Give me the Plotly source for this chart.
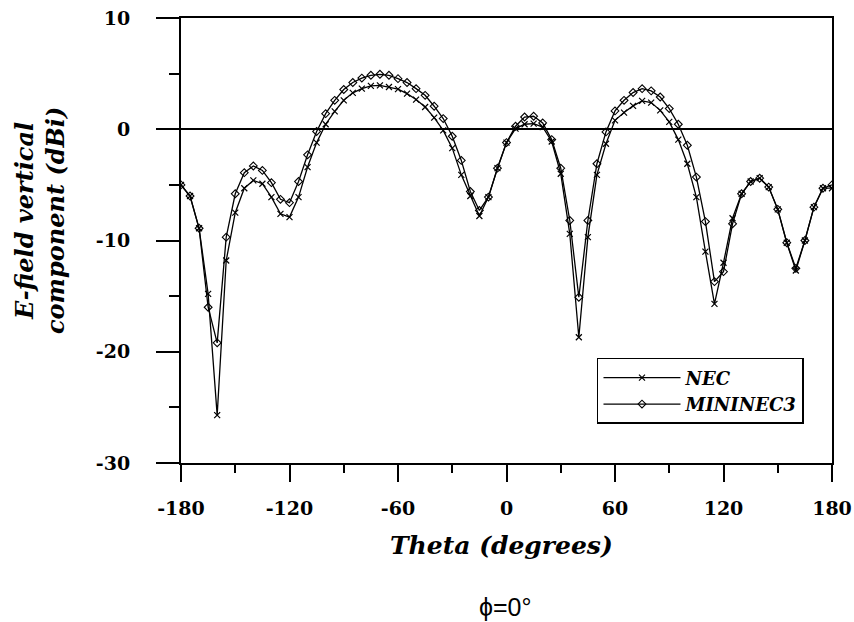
import plotly.graph_objects as go

theta = list(range(-180, 181, 5))

nec = [-5.0, -6.0, -8.9, -14.8, -25.7, -11.8, -7.5, -5.3, -4.6, -4.9,
       -6.1, -7.6, -7.9, -6.1, -3.4, -1.2, 0.45, 1.6, 2.6, 3.27,
       3.65, 3.9, 3.95, 3.8, 3.6, 3.2, 2.67, 2.0, 1.05, -0.1,
       -1.7, -4.1, -6.0, -7.8, -6.1, -3.5, -1.2, 0.06, 0.45, 0.5,
       0.2, -1.1, -4.0, -9.4, -18.7, -9.7, -4.1, -1.3, 0.8, 1.5,
       2.1, 2.55, 2.4, 1.7, 0.66, -0.93, -3.1, -6.1, -11.0, -15.7,
       -12.0, -8.0, -5.8, -4.7, -4.4, -5.2, -7.2, -10.2, -12.7, -10.0,
       -7.0, -5.3, -5.3]

mininec3 = [-5.0, -6.0, -8.9, -16.0, -19.2, -9.7, -5.8, -3.9, -3.3, -3.7,
            -4.8, -6.3, -6.6, -4.7, -2.3, -0.2, 1.4, 2.6, 3.57, 4.2,
            4.6, 4.85, 4.94, 4.85, 4.55, 4.2, 3.65, 3.05, 2.07, 0.96,
            -0.63, -2.8, -5.6, -7.3, -6.1, -3.5, -1.2, 0.27, 1.1, 1.17,
            0.57, -0.93, -3.5, -8.2, -15.1, -8.2, -3.1, -0.24, 1.65, 2.6,
            3.3, 3.65, 3.45, 2.9, 1.86, 0.45, -1.44, -4.3, -8.3, -13.7,
            -12.8, -8.5, -5.8, -4.7, -4.4, -5.2, -7.2, -10.2, -12.5, -10.0,
            -7.0, -5.3, -5.0]

x_tickvals = [-180, -120, -60, 0, 60, 120, 180]
x_ticktext = ["-180", "-120", "-60", "0", "60", "120", "180"]
x_minorvals = [-150, -90, -30, 30, 90, 150]
y_tickvals = [-30, -20, -10, 0, 10]
y_ticktext = ["-30", "-20", "-10", "0", "10"]
y_minorvals = [-25, -15, -5, 5]

x_title = "Theta (degrees)"
y_title = "E-field vertical<br>component (dBi)"
sub_title = "\u03d5=0\u00b0"

SERIF = "DejaVu Serif"

fig = go.Figure()
fig.add_trace(go.Scatter(
    x=theta, y=nec, name="NEC", mode="lines+markers",
    line=dict(color="black", width=1.3),
    marker=dict(symbol="x-thin", size=6, color="black",
                line=dict(color="black", width=1.2)),
))
fig.add_trace(go.Scatter(
    x=theta, y=mininec3, name="MININEC3", mode="lines+markers",
    line=dict(color="black", width=1.3),
    marker=dict(symbol="diamond-open", size=6, color="black",
                line=dict(color="black", width=1.1)),
))

axis_common = dict(
    showline=True, linecolor="black", linewidth=2, mirror=True,
    showgrid=False, ticks="outside", tickcolor="black", tickwidth=2,
    tickmode="array", automargin=False,
    tickfont=dict(family=SERIF, size=19, color="black", weight="bold"),
)

fig.update_xaxes(
    **axis_common, range=[-180, 180], tickvals=x_tickvals, ticktext=x_ticktext,
    ticklen=17, ticklabelstandoff=10, zeroline=False,
    minor=dict(tickmode="array", tickvals=x_minorvals, ticks="outside",
               ticklen=8, tickwidth=2, tickcolor="black", showgrid=False),
)
fig.update_yaxes(
    **axis_common, range=[-30, 10], tickvals=y_tickvals, ticktext=y_ticktext,
    ticklen=23, ticklabelstandoff=22,
    zeroline=True, zerolinecolor="black", zerolinewidth=1.5,
    minor=dict(tickmode="array", tickvals=y_minorvals, ticks="outside",
               ticklen=10, tickwidth=2, tickcolor="black", showgrid=False),
)

fig.update_layout(
    width=854, height=622,
    margin=dict(l=181, r=22, t=18, b=159, autoexpand=False),
    paper_bgcolor="white", plot_bgcolor="white",
    showlegend=True,
    legend=dict(
        x=0.639, y=0.236, xanchor="left", yanchor="top",
        bordercolor="black", borderwidth=1.5, bgcolor="white",
        font=dict(family=SERIF, size=18, color="black", weight="bold", style="italic"),
        itemwidth=77, tracegroupgap=0,
    ),
    annotations=[
        dict(text=x_title, xref="paper", yref="paper", x=0.4916, y=-0.1865,
             showarrow=False, xanchor="center", yanchor="middle",
             font=dict(family=SERIF, size=25, color="black", weight="bold", style="italic")),
        dict(text=y_title, xref="paper", yref="paper", x=-0.2166, y=0.546,
             showarrow=False, xanchor="center", yanchor="middle", textangle=-90,
             font=dict(family=SERIF, size=24, color="black", weight="bold", style="italic")),
        dict(text=sub_title, xref="paper", yref="paper", x=0.4977, y=-0.3236,
             showarrow=False, xanchor="center", yanchor="middle",
             font=dict(family="Liberation Sans", size=25, color="black")),
    ],
)

fig.write_html("out.html")
